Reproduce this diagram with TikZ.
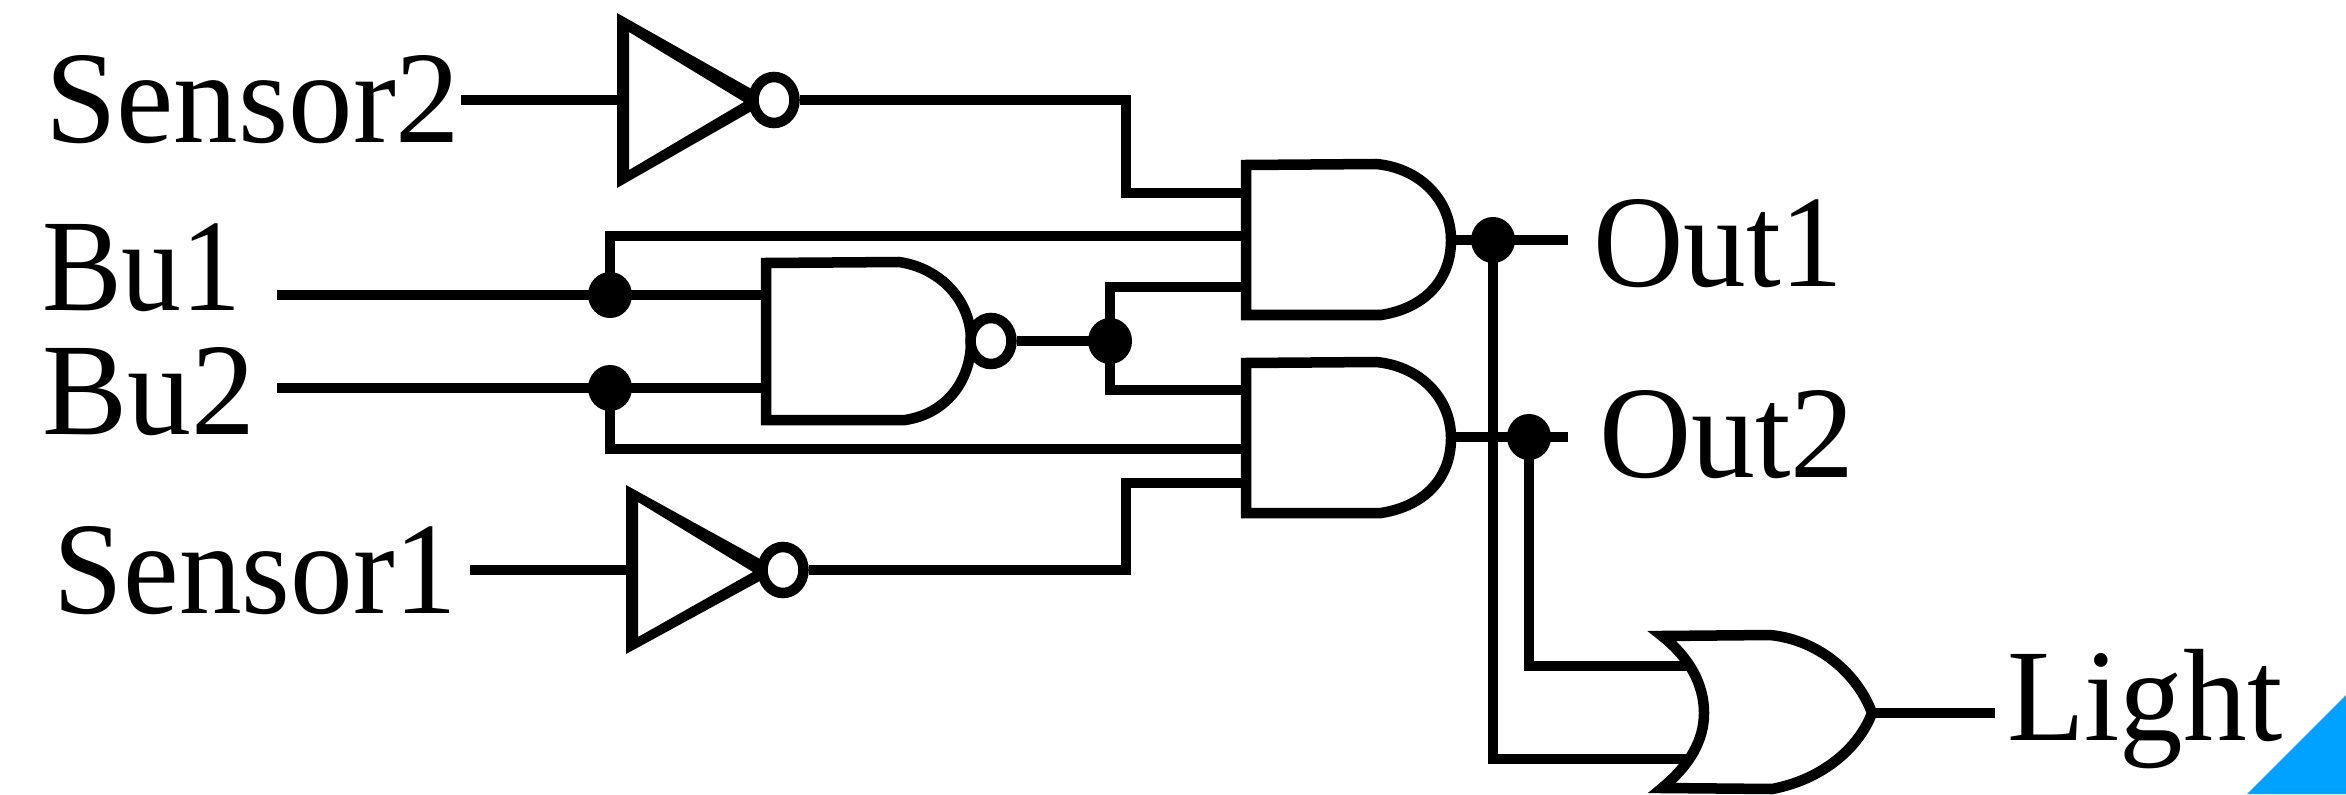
\documentclass[tikz,border=0pt]{standalone}
\usepackage{fontspec}
\usepackage{graphicx}
\setmainfont{Liberation Serif}
\usetikzlibrary{shapes.geometric}
\newcommand{\lbl}[2]{\scalebox{#1}[1.05]{#2}}
\tikzset{
  wire/.style={line width=0.105cm,line cap=butt,line join=miter},
  gate/.style={line width=0.105cm,line join=miter,fill=white},
  invgate/.style={fill=black,even odd rule},
  junction/.style={ellipse,fill=black,inner sep=0pt,outer sep=0pt,minimum width=0.44cm,minimum height=0.46cm},
  bubble/.style={ellipse,draw,fill=white,line width=0.105cm,inner sep=0pt,minimum width=0.41cm,minimum height=0.46cm},
  label/.style={anchor=base west,inner sep=0pt,outer sep=0pt,font=\fontsize{35.6pt}{40pt}\selectfont}
}
\begin{document}
\begin{tikzpicture}[x=0.01cm,y=-0.01cm]
\useasboundingbox (0,0) rectangle (2346,794);
\fill[color={rgb,255:red,0;green,162;blue,255}] (2247,794) -- (2346,695) -- (2346,794) -- cycle;

% labels
\node[label] (s2) at (45,143) {\lbl{1.03}{Sensor2}};
\node[label] (b1) at (42,310) {\lbl{0.955}{Bu1}};
\node[label] (b2) at (42,434) {\lbl{1.02}{Bu2}};
\node[label] (s1) at (54,613) {\lbl{1}{Sensor1}};
\node[label] (o1) at (1593,286) {\lbl{1}{Out1}};
\node[label] (o2) at (1599,477) {\lbl{1.02}{Out2}};
\node[label] (li) at (2007,740) {\lbl{1.015}{Light}};

% gates
\draw[gate] (1246,165) -- (1376,164) .. controls (1420,168) and (1451,200) .. (1451,240) .. controls (1451,280) and (1425,308) .. (1381,315) -- (1246,315) -- cycle;
\draw[gate] (1246,363) -- (1376,362) .. controls (1420,366) and (1451,398) .. (1451,438) .. controls (1451,478) and (1425,506) .. (1381,513) -- (1246,513) -- cycle;
\draw[gate] (766,263) -- (899,262) .. controls (940,268) and (971,300) .. (971,341) .. controls (971,382) and (945,414) .. (905,420) -- (766,420) -- cycle;
\fill[invgate] (617,13) -- (771,100) -- (617,188) -- cycle (629,32) -- (744,102) -- (629,170) -- cycle;
\fill[invgate] (626,485) -- (780,570) -- (626,654) -- cycle (638,502) -- (753,572) -- (638,637) -- cycle;
\draw[gate] (1662,636) -- (1770,635) .. controls (1820,640) and (1858,675) .. (1872,713) .. controls (1858,750) and (1820,780) .. (1772,789) -- (1662,788) .. controls (1690,765) and (1704,740) .. (1704,713) .. controls (1704,685) and (1690,658) .. (1662,636) -- cycle;

% free ends and pins
\coordinate (s2in) at (461,100);
\coordinate (inv2a) at (621,100);
\coordinate (s1in) at (470,570);
\coordinate (inv1a) at (630,570);
\coordinate (b1in) at (277,295);
\coordinate (b2in) at (277,388);
\coordinate (nanda) at (766,295);
\coordinate (nandb) at (766,388);
\coordinate (a1p1) at (1244,193);
\coordinate (a1p2) at (1244,236);
\coordinate (a1p3) at (1244,287);
\coordinate (a2p1) at (1244,390);
\coordinate (a2p2) at (1244,449);
\coordinate (a2p3) at (1244,483);
\coordinate (a1out) at (1450,240);
\coordinate (a2out) at (1450,437);
\coordinate (o1end) at (1568,240);
\coordinate (o2end) at (1568,437);
\coordinate (orp1) at (1692,666);
\coordinate (orp2) at (1692,759);
\coordinate (orout) at (1872,713);
\coordinate (liend) at (1995,713);

% junctions and bubbles
\node[junction] (jb1) at (610,295) {};
\node[junction] (jb2) at (610,388) {};
\node[junction] (jn) at (1110,341) {};
\node[junction] (jo1) at (1493,240) {};
\node[junction] (jo2) at (1529,437) {};
\node[bubble] (bub2) at (774,100) {};
\node[bubble] (bub1) at (783,570) {};
\node[bubble] (bubn) at (991,341) {};

% wires
\draw[wire] (s2in) -- (inv2a);
\draw[wire] (s1in) -- (inv1a);
\draw[wire] (bub2.east) -- (1126,100) -- (1126,193) -- (a1p1);
\draw[wire] (bub1.east) -- (1126,570) -- (1126,483) -- (a2p3);
\draw[wire] (b1in) -- (nanda);
\draw[wire] (b2in) -- (nandb);
\draw[wire] (jb1.center) -- (610,236) -- (a1p2);
\draw[wire] (jb2.center) -- (610,449) -- (a2p2);
\draw[wire] (bubn.east) -- (jn.center);
\draw[wire] (jn.center) -- (1110,287) -- (a1p3);
\draw[wire] (jn.center) -- (1110,390) -- (a2p1);
\draw[wire] (a1out) -- (o1end);
\draw[wire] (a2out) -- (o2end);
\draw[wire] (jo1.center) -- (1493,759) -- (orp2);
\draw[wire] (jo2.center) -- (1529,666) -- (orp1);
\draw[wire] (orout) -- (liend);
\end{tikzpicture}
\end{document}
